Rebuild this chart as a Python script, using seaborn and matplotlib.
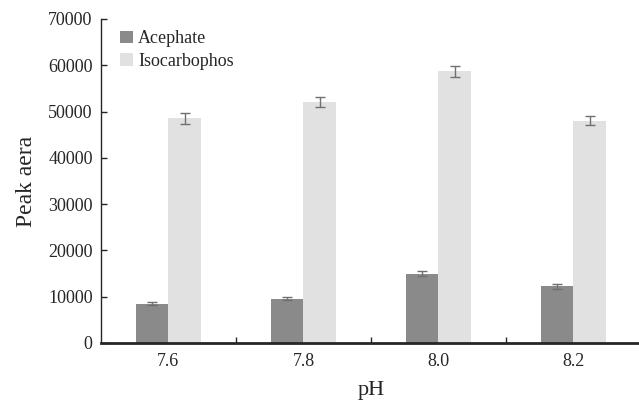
import pandas as pd
import seaborn as sns
import matplotlib.pyplot as plt
from matplotlib.ticker import FixedLocator

# data
ph_labels = ["7.6", "7.8", "8.0", "8.2"]
acephate = [8500, 9600, 15000, 12200]
acephate_err = [350, 400, 600, 450]
isocarbophos = [48500, 52000, 58700, 48000]
isocarbophos_err = [1100, 1100, 1200, 1000]
series = ["Acephate", "Isocarbophos"]

sns.set_theme(style="ticks")
plt.rcParams['font.family'] = ['Liberation Serif', 'DejaVu Serif']

df = pd.DataFrame({
    "pH": ph_labels * 2,
    "value": acephate + isocarbophos,
    "err": acephate_err + isocarbophos_err,
    "series": [series[0]] * 4 + [series[1]] * 4,
})

fig = plt.figure(figsize=(6.39, 4.03), dpi=100)
ax = fig.add_axes([0.158, 0.149, 0.845, 0.804])

sns.barplot(
    data=df, x="pH", y="value", hue="series",
    palette=["#8a8a8a", "#e1e1e1"], width=0.48, gap=0,
    saturation=1, errorbar=None, linewidth=0, ax=ax,
)

# error bars on the bar centres
bars = [p for p in ax.patches if p.get_height() > 0]
for bar, (_, row) in zip(bars, df.iterrows()):
    ax.errorbar(
        bar.get_x() + bar.get_width() / 2, row["value"], yerr=row["err"],
        fmt="none", ecolor="#707070", elinewidth=1.0, capsize=3.5, capthick=1.0,
    )

ax.set_ylim(0, 70000)
ax.set_xlim(-0.5, 3.5)
ax.set_yticks(range(0, 70001, 10000))
ax.set_xlabel("pH", fontsize=16, labelpad=8)
ax.set_ylabel("Peak aera", fontsize=17, labelpad=8)

ax.tick_params(axis="y", direction="in", length=4, width=1, labelsize=13, pad=6)
ax.tick_params(axis="x", which="major", length=0, labelsize=13, pad=7)
ax.xaxis.set_minor_locator(FixedLocator([0.5, 1.5, 2.5]))
ax.tick_params(axis="x", which="minor", direction="in", length=4, width=1)

sns.despine(ax=ax)
ax.spines["left"].set_linewidth(1.0)
ax.spines["bottom"].set_linewidth(2.0)

ax.legend(
    frameon=False, loc="upper left", bbox_to_anchor=(0.005, 1.015),
    fontsize=13, handlelength=0.7, handleheight=0.7, handletextpad=0.3,
    labelspacing=0.3,
)

fig.savefig("out.png", dpi=100)
